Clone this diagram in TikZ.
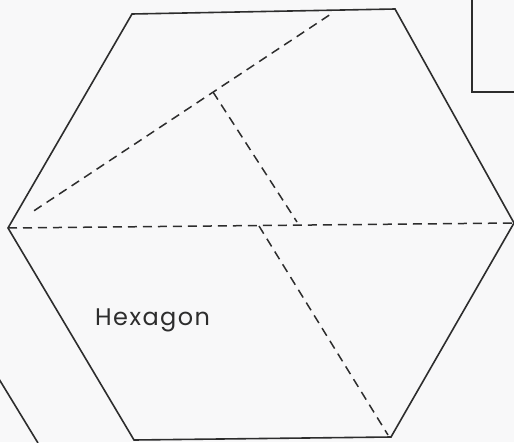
\documentclass[tikz,border=0pt]{standalone}
\usepackage{fontspec}
\setmainfont{Poppins}
\newfontfamily\labelfont[LetterSpace=6]{Poppins}
\usetikzlibrary{calc}
\definecolor{ink}{RGB}{45,45,45}
\definecolor{paper}{RGB}{248,248,249}
\begin{document}
\begin{tikzpicture}[x=1pt,y=-1pt,
  solidline/.style={draw=ink,line width=1.6pt,line join=miter},
  dashline/.style={draw=ink,line width=1.5pt,dash pattern=on 9pt off 6pt}]
\fill[paper] (0,0) rectangle (514,442);
\useasboundingbox (0,0) rectangle (514,442);
% hexagon vertices
\coordinate (tl) at (132,14);
\coordinate (tr) at (395,9);
\coordinate (r) at (514,223);
\coordinate (br) at (391,437);
\coordinate (bl) at (134,440);
\coordinate (l) at (8,228);
\draw[solidline] (tl) -- (tr) -- (r) -- (br) -- (bl) -- (l) -- cycle;
% dashed construction lines
\coordinate (top) at (334,12);
\coordinate (turn) at (213,92);
\coordinate (mid1) at (297,222);
\coordinate (mid2) at (259,226);
\coordinate (bot) at (388,435);
\draw[dashline] (l) -- (r);
\draw[dashline] ($(l)!0.08!(top)$) -- (top);
\draw[dashline] (turn) -- (mid1);
\draw[dashline] (mid2) -- (bot);
% rectangle top right
\coordinate (rect1) at (472,-2);
\coordinate (rect2) at (472,92);
\coordinate (rect3) at (516,92);
\draw[solidline] (rect1) -- (rect2) -- (rect3);
% partial line bottom left
\coordinate (bl1) at (-1,379);
\coordinate (bl2) at (38,443);
\draw[solidline] (bl1) -- (bl2);
\node[text=ink,font=\labelfont\fontsize{24}{28}\selectfont,anchor=base west,inner sep=0pt] (label) at (95,325) {Hexagon};
\end{tikzpicture}
\end{document}
